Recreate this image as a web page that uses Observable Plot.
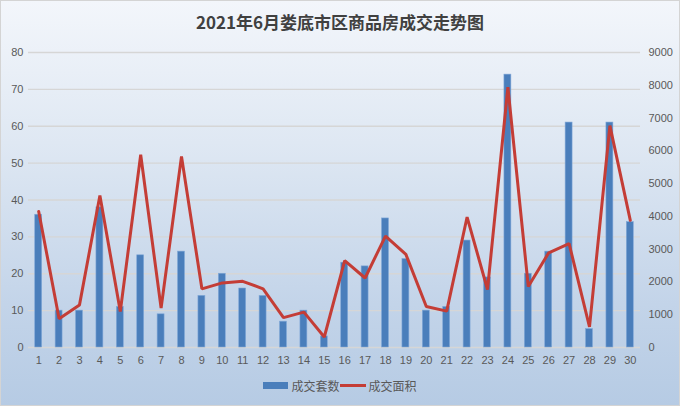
<!DOCTYPE html>
<html>
<head>
<meta charset="utf-8">
<script src="https://cdn.jsdelivr.net/npm/d3@7"></script>
<script src="https://cdn.jsdelivr.net/npm/@observablehq/plot@0.6"></script>
<style>
  html, body { margin: 0; padding: 0; }
  #frame {
    width: 678px; height: 404px; position: relative; overflow: hidden;
    border: 1px solid #d4d4d4;
    background: linear-gradient(to bottom, #f3f6fb 0%, #dfe8f3 35%, #c3d4e9 75%, #b6cbe4 100%);
    font-family: "Noto Sans CJK SC", "Noto Sans", sans-serif;
  }
  #title {
    height: 39px; line-height: 42px; text-align: center;
    font-size: 17px; font-weight: bold; color: #404040;
  }
  #legend {
    position: absolute; left: 0; right: 0; top: 376px;
    display: flex; justify-content: center; align-items: center;
    font-size: 12px; color: #595959; font-family: "Noto Sans CJK SC", serif;
  }
  #legend .sw { display: inline-block; }
</style>
</head>
<body>
<div id="frame">
  <div id="title">2021年6月娄底市区商品房成交走势图</div>
  <div id="chart"></div>
  <div id="legend">
    <span class="sw" style="width:25px;height:7px;background:#4a7ebb;margin-right:3px"></span><span>成交套数</span>
    <span class="sw" style="width:26px;height:3px;background:#c43d36;margin:0 3px 0 0"></span><span>成交面积</span>
  </div>
</div>
<script>
const days = d3.range(1, 31);
const units = [36, 10, 10, 38, 11, 25, 9, 26, 14, 20, 16, 14, 7, 10, 3, 23, 22, 35, 24, 10, 11, 29, 19, 74, 20, 26, 61, 5, 61, 34];
const area = [4150, 880, 1300, 4640, 1100, 5880, 1200, 5830, 1790, 1970, 2020, 1790, 910, 1080, 320, 2650, 2120, 3400, 2840, 1250, 1110, 3980, 1770, 7940, 1860, 2890, 3170, 630, 6770, 3880];
const leftTicks = [0, 10, 20, 30, 40, 50, 60, 70, 80];
const rightTicks = [0, 1000, 2000, 3000, 4000, 5000, 6000, 7000, 8000, 9000];
const leftMax = 80, rightMax = 9000;
const toLeft = v => v * leftMax / rightMax;

const barData = days.map((d, i) => ({day: d, units: units[i]}));
const lineData = days.map((d, i) => ({day: d, area: toLeft(area[i])}));

const chart = Plot.plot({
  width: 678,
  height: 332,
  marginTop: 12,
  marginBottom: 25,
  marginLeft: 27,
  marginRight: 39,
  style: {background: "transparent", fontFamily: "'Liberation Sans', Arial, sans-serif", fontSize: "11px", color: "#595959"},
  x: {type: "band", domain: days, paddingInner: 0.66, paddingOuter: 0.33, align: 0.5, round: false},
  y: {domain: [0, leftMax]},
  marks: [
    Plot.gridY(leftTicks, {stroke: "#d6d6d6", strokeOpacity: 1, strokeWidth: 1.3}),
    Plot.barY(barData, {x: "day", y: "units", fill: "#4a7ebb", stroke: "#80a8d8", strokeWidth: 0.6}),
    Plot.lineY(lineData, {x: "day", y: "area", stroke: "#c43d36", strokeWidth: 3, strokeLinejoin: "miter"}),
    Plot.axisY(leftTicks, {anchor: "left", tickSize: 0, tickPadding: 5, label: null, fill: "#595959"}),
    Plot.axisY(rightTicks.map(toLeft), {anchor: "right", tickSize: 0, tickPadding: 8, label: null, fill: "#595959", tickFormat: d => String(Math.round(d * rightMax / leftMax))}),
    Plot.axisX(days, {tickSize: 0, tickPadding: 9, label: null, fill: "#595959"})
  ]
});
document.getElementById("chart").appendChild(chart);
</script>
</body>
</html>
